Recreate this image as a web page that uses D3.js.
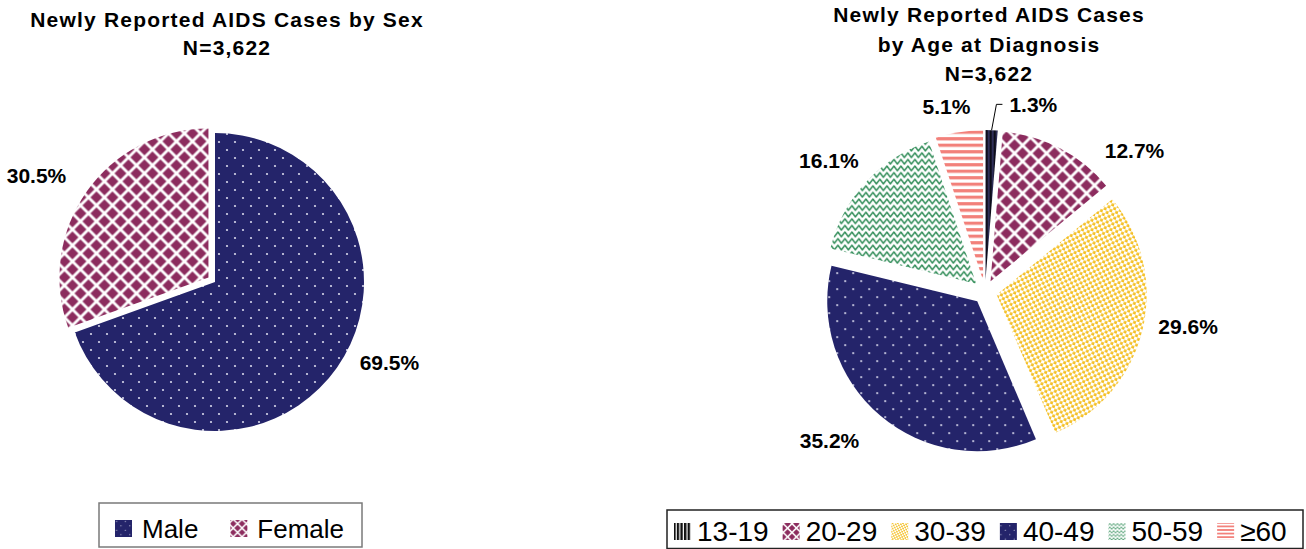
<!DOCTYPE html>
<html>
<head>
<meta charset="utf-8">
<script src="https://cdn.jsdelivr.net/npm/d3@7"></script>
<style>
  body { margin: 0; background: #fff; }
  svg { display: block; }
  text { font-family: "Liberation Sans", Arial, sans-serif; fill: #000; }
</style>
</head>
<body>
<svg id="chart" width="1306" height="549"></svg>
<script>
// ─── Data ───
const sexLabels = ["Male", "Female"];
const sexPct = [69.5, 30.5];
const ageLabels = ["13-19", "20-29", "30-39", "40-49", "50-59", "≥60"];
const agePct = [1.3, 12.7, 29.6, 35.2, 16.1, 5.1];
const totalCases = "3,622";

// ─── Fills (pattern ids) ───
const sexFills = ["navy", "diamond"];
const ageFills = ["teen", "diamond", "yellow", "navy", "wave", "stripe"];

const svg = d3.select("#chart");
const defs = svg.append("defs");
const fmtPct = (v) => d3.format(".1f")(v) + "%";

// ─── Patterns: one at chart scale, one smaller for legend swatches ───
function addPattern(id, w, h, transform, draw) {
  const p = defs
    .append("pattern")
    .attr("id", id)
    .attr("patternUnits", "userSpaceOnUse")
    .attr("width", w)
    .attr("height", h);
  if (transform) p.attr("patternTransform", transform);
  draw(p);
}

function buildPatterns(suffix, scale) {
  const sc = scale === 1 ? "" : `scale(${scale})`;
  addPattern("navy" + suffix, 16, 16, sc, (p) => {
    p.append("rect").attr("width", 16).attr("height", 16).attr("fill", "#24246a");
    p.append("circle").attr("cx", 4).attr("cy", 4).attr("r", 1.1).attr("fill", "#d6d6ea");
    p.append("circle").attr("cx", 12).attr("cy", 12).attr("r", 1.1).attr("fill", "#d6d6ea");
  });
  addPattern("diamond" + suffix, 16, 16, sc, (p) => {
    p.append("rect").attr("width", 16).attr("height", 16).attr("fill", "#fff");
    const h = 6;
    [[0, 0], [16, 0], [0, 16], [16, 16], [8, 8]].forEach(([x, y]) => {
      p.append("path")
        .attr("d", `M${x - h},${y}L${x},${y - h}L${x + h},${y}L${x},${y + h}Z`)
        .attr("fill", "#8c2c5e");
    });
  });
  addPattern("yellow" + suffix, 6, 6, `${sc} rotate(18)`, (p) => {
    p.append("rect").attr("width", 6).attr("height", 6).attr("fill", "#fff");
    p.append("rect").attr("x", 0.2).attr("y", 0.2).attr("width", 2.8).attr("height", 2.8).attr("fill", "#f4bf22");
    p.append("rect").attr("x", 3.2).attr("y", 3.2).attr("width", 2.8).attr("height", 2.8).attr("fill", "#f4bf22");
  });
  addPattern("wave" + suffix, 7, 6.6, sc, (p) => {
    p.append("rect").attr("width", 7).attr("height", 6.6).attr("fill", "#fff");
    p.append("path")
      .attr("d", "M-3.5,3.3 L-1.75,5.6 L0,3.3 L1.75,1 L3.5,3.3 L5.25,5.6 L7,3.3 L8.75,1 L10.5,3.3")
      .attr("fill", "none")
      .attr("stroke", "#2f8c57")
      .attr("stroke-width", 1.5)
      .attr("stroke-linejoin", "round");
  });
  addPattern("stripe" + suffix, 6.5, 6.5, sc, (p) => {
    p.append("rect").attr("width", 6.5).attr("height", 6.5).attr("fill", "#fff");
    p.append("rect").attr("y", 0).attr("width", 6.5).attr("height", 3.2).attr("fill", "#f2807a");
  });
}
buildPatterns("", 1);
buildPatterns("-lg", 0.55);

// 13-19 : black bars (navy between in the slice, white between in the legend)
addPattern("teen", 4, 4, "", (p) => {
  p.append("rect").attr("width", 4).attr("height", 4).attr("fill", "#3d3d72");
  p.append("rect").attr("width", 2.6).attr("height", 4).attr("fill", "#0d0d1a");
});
addPattern("teen-lg", 3.6, 4, "", (p) => {
  p.append("rect").attr("width", 3.6).attr("height", 4).attr("fill", "#fff");
  p.append("rect").attr("width", 2.4).attr("height", 4).attr("fill", "#111");
});

// ─── Titles ───
function title(lines, cx, y0, step) {
  const t = svg
    .append("text")
    .attr("text-anchor", "middle")
    .style("font-size", "21px")
    .style("font-weight", "bold")
    .style("letter-spacing", "1.2px");
  lines.forEach((s, i) => {
    t.append("tspan").attr("x", cx).attr("y", y0 + i * step).text(s);
  });
}
title(["Newly Reported AIDS Cases by Sex", "N=" + totalCases], 227, 27, 28);
title(["Newly Reported AIDS Cases", "by Age at Diagnosis", "N=" + totalCases], 989, 22, 29.5);

// ─── Pie helper ───
function drawPie(values, fills, cx, cy, r, explode) {
  const arcs = d3.pie().sort(null).value((d) => d)(values);
  const arc = d3.arc().innerRadius(0).outerRadius(r);
  const g = svg.append("g").attr("transform", `translate(${cx},${cy})`);
  g.selectAll("path")
    .data(arcs)
    .join("path")
    .attr("d", arc)
    .attr("fill", (d, i) => `url(#${fills[i]})`)
    .attr("transform", (d, i) => {
      const m = (d.startAngle + d.endAngle) / 2;
      return `translate(${Math.sin(m) * explode[i]},${-Math.cos(m) * explode[i]})`;
    });
  return { g, arcs };
}

function pieLabels(pie, values, shiftDeg, dist) {
  pie.arcs.forEach((d, i) => {
    if (dist[i] == null) return;
    const m = (d.startAngle + d.endAngle) / 2 + (shiftDeg[i] * Math.PI) / 180;
    pie.g
      .append("text")
      .attr("x", Math.sin(m) * dist[i])
      .attr("y", -Math.cos(m) * dist[i])
      .attr("dy", "0.36em")
      .attr("text-anchor", "middle")
      .style("font-size", "21px")
      .style("font-weight", "bold")
      .text(fmtPct(values[i]));
  });
}

// ─── Left pie: by sex ───
const sexPie = drawPie(sexPct, sexFills, 215, 282, 149, [0, 8]);
pieLabels(sexPie, sexPct, [-10.4, -4.2], [192, 208]);

// ─── Right pie: by age ───
const ageR = 150;
const agePie = drawPie(agePct, ageFills, 985, 292, ageR, agePct.map(() => 12));
pieLabels(agePie, agePct, [0, 19, -4, 6, -2.6, -2.5], [null, 206, 206, 215, 204, 190]);

// leader line for the thin 13-19 slice
{
  const d = agePie.arcs[0];
  const m = (d.startAngle + d.endAngle) / 2;
  const a = m + 0.02;
  const p0 = [Math.sin(m) * (ageR + 12), -Math.cos(m) * (ageR + 12)];
  const p1 = [Math.sin(a) * (ageR + 38), -Math.cos(a) * (ageR + 38)];
  const p2 = [p1[0] + 6, p1[1]];
  agePie.g
    .append("path")
    .attr("d", d3.line()([p0, p1, p2]))
    .attr("fill", "none")
    .attr("stroke", "#000")
    .attr("stroke-width", 1);
  agePie.g
    .append("text")
    .attr("x", p2[0] + 7)
    .attr("y", p2[1])
    .attr("dy", "0.36em")
    .style("font-size", "21px")
    .style("font-weight", "bold")
    .text(fmtPct(agePct[0]));
}

// ─── Legends ───
function legend(labels, fills, box, x0, baseline, fontSize, sw, gapIn, gapOut, stroke) {
  svg
    .append("rect")
    .attr("x", box[0])
    .attr("y", box[1])
    .attr("width", box[2])
    .attr("height", box[3])
    .attr("fill", "#fff")
    .attr("stroke", stroke)
    .attr("stroke-width", 1.5);
  let x = x0;
  labels.forEach((lab, i) => {
    svg
      .append("rect")
      .attr("x", x)
      .attr("y", baseline - sw - 1)
      .attr("width", sw)
      .attr("height", sw)
      .attr("fill", `url(#${fills[i]}-lg)`);
    x += sw + gapIn;
    const t = svg
      .append("text")
      .attr("x", x)
      .attr("y", baseline)
      .style("font-size", fontSize + "px")
      .text(lab);
    x += t.node().getComputedTextLength() + gapOut;
  });
}
legend(sexLabels, sexFills, [99, 503, 263, 44], 115, 538, 26, 17, 10, 32, "#7a7a7a");
legend(ageLabels, ageFills, [667, 510, 636, 38.5], 674, 541, 28, 17, 6, 14, "#222");
</script>
</body>
</html>
